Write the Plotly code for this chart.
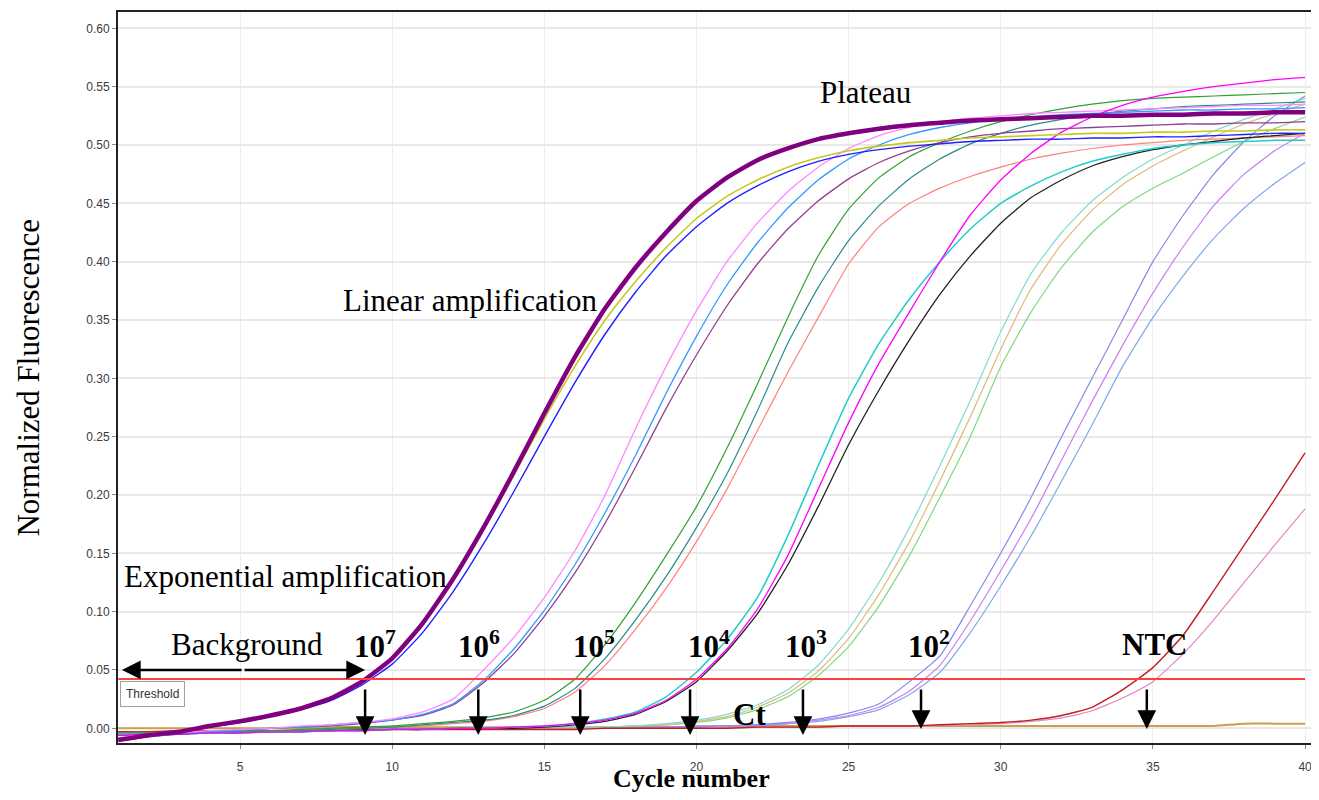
import plotly.graph_objects as go

cycles = list(range(1, 41))

s7_purple = [-0.010,-0.006,-0.003,0.002,0.006,0.011,0.017,0.026,0.040,0.060,0.090,0.128,0.172,0.220,0.270,0.318,0.360,0.395,0.425,0.452,0.472,0.487,0.497,0.505,0.510,0.514,0.517,0.519,0.521,0.522,0.523,0.524,0.525,0.525,0.526,0.526,0.527,0.527,0.528,0.528]
s7_yellow = [-0.010,-0.007,-0.003,0.002,0.006,0.011,0.017,0.026,0.040,0.060,0.089,0.127,0.170,0.217,0.265,0.310,0.350,0.383,0.412,0.437,0.456,0.470,0.481,0.489,0.495,0.499,0.502,0.504,0.506,0.507,0.508,0.509,0.510,0.510,0.511,0.511,0.512,0.512,0.513,0.513]
s7_blue = [-0.011,-0.007,-0.003,0.001,0.005,0.010,0.016,0.024,0.037,0.055,0.082,0.117,0.158,0.203,0.250,0.296,0.338,0.374,0.405,0.430,0.450,0.465,0.477,0.486,0.492,0.496,0.499,0.501,0.503,0.504,0.505,0.505,0.506,0.506,0.507,0.507,0.508,0.509,0.510,0.510]

s6_pink = [-0.008,-0.006,-0.004,-0.002,-0.001,0.000,0.002,0.003,0.005,0.008,0.014,0.025,0.050,0.078,0.112,0.152,0.200,0.257,0.310,0.358,0.400,0.433,0.460,0.481,0.497,0.508,0.515,0.520,0.523,0.525,0.527,0.528,0.529,0.530,0.531,0.532,0.533,0.534,0.534,0.535]
s6_dblue = [-0.009,-0.007,-0.005,-0.003,-0.002,0.000,0.001,0.003,0.005,0.007,0.012,0.021,0.041,0.068,0.101,0.140,0.185,0.234,0.287,0.336,0.380,0.416,0.446,0.470,0.488,0.500,0.509,0.515,0.519,0.522,0.524,0.526,0.527,0.528,0.529,0.530,0.530,0.531,0.531,0.532]
s6_purple = [-0.009,-0.007,-0.005,-0.003,-0.002,0.000,0.001,0.002,0.004,0.007,0.011,0.020,0.039,0.064,0.096,0.133,0.176,0.224,0.274,0.320,0.362,0.398,0.428,0.452,0.471,0.485,0.495,0.502,0.507,0.510,0.512,0.514,0.515,0.516,0.517,0.518,0.518,0.519,0.519,0.520]

s5_green = [-0.004,-0.004,-0.003,-0.003,-0.002,-0.002,-0.001,0.000,0.001,0.002,0.004,0.006,0.009,0.014,0.024,0.042,0.072,0.108,0.148,0.190,0.240,0.295,0.352,0.405,0.445,0.472,0.490,0.502,0.512,0.520,0.526,0.531,0.535,0.538,0.540,0.541,0.542,0.543,0.544,0.545]
s5_teal = [-0.005,-0.005,-0.004,-0.004,-0.003,-0.003,-0.002,-0.001,0.000,0.001,0.003,0.005,0.007,0.011,0.019,0.034,0.060,0.093,0.130,0.172,0.218,0.272,0.330,0.378,0.418,0.448,0.471,0.488,0.501,0.510,0.517,0.522,0.526,0.529,0.531,0.533,0.534,0.535,0.536,0.537]
s5_salmon = [-0.005,-0.005,-0.004,-0.004,-0.003,-0.003,-0.002,-0.001,0.000,0.001,0.002,0.004,0.006,0.010,0.017,0.031,0.054,0.085,0.120,0.160,0.205,0.255,0.305,0.352,0.398,0.430,0.450,0.463,0.473,0.481,0.488,0.493,0.497,0.500,0.502,0.504,0.505,0.506,0.507,0.508]

s4_cyan = [-0.005,-0.005,-0.004,-0.004,-0.004,-0.003,-0.003,-0.002,-0.002,-0.001,-0.001,0.000,0.000,0.001,0.002,0.004,0.008,0.014,0.027,0.048,0.076,0.112,0.165,0.225,0.283,0.330,0.368,0.400,0.428,0.450,0.465,0.477,0.486,0.492,0.497,0.500,0.502,0.503,0.504,0.504]
s4_magenta = [-0.006,-0.005,-0.005,-0.004,-0.004,-0.003,-0.003,-0.002,-0.002,-0.001,-0.001,0.000,0.000,0.001,0.002,0.004,0.007,0.013,0.024,0.042,0.068,0.102,0.148,0.205,0.262,0.313,0.357,0.400,0.440,0.470,0.493,0.511,0.524,0.534,0.541,0.546,0.550,0.553,0.556,0.558]
s4_black = [-0.006,-0.005,-0.005,-0.004,-0.004,-0.003,-0.003,-0.002,-0.002,-0.001,-0.001,0.000,0.000,0.000,0.001,0.003,0.006,0.012,0.023,0.040,0.066,0.098,0.140,0.190,0.243,0.290,0.333,0.372,0.405,0.433,0.455,0.470,0.482,0.490,0.496,0.500,0.503,0.506,0.508,0.510]

s3_aqua = [-0.004,-0.004,-0.003,-0.003,-0.003,-0.002,-0.002,-0.002,-0.001,-0.001,-0.001,0.000,0.000,0.000,0.000,0.001,0.001,0.002,0.004,0.007,0.012,0.020,0.033,0.054,0.085,0.125,0.172,0.225,0.281,0.340,0.390,0.425,0.452,0.472,0.488,0.500,0.512,0.522,0.531,0.540]
s3_tan = [-0.004,-0.004,-0.003,-0.003,-0.003,-0.002,-0.002,-0.002,-0.001,-0.001,-0.001,0.000,0.000,0.000,0.000,0.000,0.001,0.002,0.003,0.006,0.010,0.018,0.030,0.049,0.077,0.115,0.160,0.212,0.267,0.325,0.377,0.415,0.444,0.466,0.482,0.495,0.507,0.518,0.527,0.535]
s3_lgreen = [-0.004,-0.004,-0.003,-0.003,-0.003,-0.002,-0.002,-0.002,-0.001,-0.001,-0.001,0.000,0.000,0.000,0.000,0.000,0.001,0.002,0.003,0.005,0.009,0.016,0.027,0.045,0.070,0.105,0.148,0.198,0.250,0.310,0.357,0.395,0.425,0.447,0.463,0.476,0.490,0.503,0.514,0.524]

s2_mpurple = [-0.003,-0.003,-0.003,-0.002,-0.002,-0.002,-0.002,-0.001,-0.001,-0.001,-0.001,0.000,0.000,0.000,0.000,0.000,0.001,0.001,0.001,0.002,0.002,0.003,0.005,0.008,0.013,0.021,0.040,0.062,0.105,0.150,0.198,0.250,0.300,0.350,0.400,0.440,0.475,0.503,0.525,0.542]
s2_orchid = [-0.003,-0.003,-0.003,-0.002,-0.002,-0.002,-0.002,-0.001,-0.001,-0.001,-0.001,0.000,0.000,0.000,0.000,0.000,0.000,0.001,0.001,0.001,0.002,0.003,0.004,0.007,0.011,0.018,0.032,0.054,0.092,0.135,0.180,0.230,0.280,0.328,0.373,0.413,0.448,0.475,0.495,0.510]
s2_lsblue = [-0.003,-0.003,-0.003,-0.002,-0.002,-0.002,-0.002,-0.001,-0.001,-0.001,-0.001,0.000,0.000,0.000,0.000,0.000,0.000,0.000,0.001,0.001,0.002,0.002,0.004,0.006,0.010,0.016,0.029,0.048,0.082,0.122,0.165,0.212,0.260,0.310,0.352,0.388,0.420,0.446,0.467,0.485]

ntc_red = [-0.003,-0.003,-0.002,-0.002,-0.002,-0.002,-0.002,-0.002,-0.001,-0.001,-0.001,-0.001,-0.001,-0.001,-0.001,-0.001,0.000,0.000,0.000,0.000,0.000,0.001,0.001,0.001,0.002,0.002,0.002,0.003,0.004,0.005,0.007,0.011,0.018,0.033,0.052,0.080,0.118,0.157,0.196,0.236]
ntc_pink = [-0.004,-0.004,-0.003,-0.003,-0.003,-0.002,-0.002,-0.002,-0.002,-0.001,-0.001,-0.001,-0.001,-0.001,0.000,0.000,0.000,0.000,0.000,0.000,0.001,0.001,0.001,0.001,0.002,0.002,0.002,0.002,0.003,0.004,0.006,0.009,0.015,0.026,0.040,0.064,0.093,0.125,0.157,0.188]
flat_gold = [0.000,0.000,0.000,0.000,0.000,0.000,0.000,0.001,0.001,0.001,0.001,0.001,0.001,0.001,0.001,0.001,0.001,0.001,0.001,0.001,0.002,0.002,0.002,0.002,0.002,0.002,0.002,0.002,0.002,0.002,0.002,0.002,0.002,0.002,0.002,0.002,0.002,0.004,0.004,0.004]

threshold = 0.0423

# (values, colour, width) in drawing order
series = [
    (flat_gold, "#c8a050", 2.0),
    (s2_lsblue, "#80a8e8", 1.2), (s2_orchid, "#c880f0", 1.2), (s2_mpurple, "#8888e8", 1.2),
    (s3_lgreen, "#80d880", 1.2), (s3_tan, "#e0b878", 1.2), (s3_aqua, "#80dccc", 1.2),
    (ntc_pink, "#e088c0", 1.2), (ntc_red, "#c02020", 1.4),
    (s5_salmon, "#ff8080", 1.2), (s5_teal, "#2a8a8a", 1.2), (s5_green, "#33a033", 1.2),
    (s6_purple, "#904090", 1.3), (s6_dblue, "#3399ff", 1.3), (s6_pink, "#ff88ff", 1.3),
    (s4_black, "#222222", 1.3), (s4_cyan, "#22cccc", 1.5), (s4_magenta, "#ff00ff", 1.3),
    (s7_blue, "#2020ff", 1.4), (s7_yellow, "#c8c820", 1.6), (s7_purple, "#800080", 4.5),
]

fig = go.Figure()
for vals, col, w in series:
    fig.add_trace(go.Scatter(x=cycles, y=vals, mode="lines",
                             line=dict(color=col, width=w, shape="spline", smoothing=0.5),
                             hoverinfo="skip", showlegend=False))

fig.add_trace(go.Scatter(x=[cycles[0], cycles[-1]], y=[threshold, threshold], mode="lines",
                         line=dict(color="#ff4040", width=2), hoverinfo="skip", showlegend=False))

serif = "Liberation Serif, Times New Roman, serif"
ann = []

def text(x, y, s, size=31, bold=False):
    ann.append(dict(x=x, y=y, xref="x", yref="y", text=("<b>%s</b>" % s) if bold else s,
                    showarrow=False, font=dict(family=serif, size=size, color="black"),
                    xanchor="center", yanchor="middle"))

text(25.57, 0.545, "Plateau")
text(12.56, 0.367, "Linear amplification")
text(6.48, 0.130, "Exponential amplification")
text(5.23, 0.072, "Background")
labels = [(9.44, "10<sup>7</sup>"), (12.86, "10<sup>6</sup>"), (16.64, "10<sup>5</sup>"),
          (20.41, "10<sup>4</sup>"), (23.6, "10<sup>3</sup>"), (27.64, "10<sup>2</sup>"),
          (35.04, "NTC")]
for x, s in labels:
    text(x, 0.072, s, size=31, bold=True)
text(21.73, 0.012, "Ct", size=31, bold=True)

# Ct arrows
ct_arrows = [(9.11, -0.0057), (12.83, -0.0057), (16.18, -0.0057), (19.79, -0.0057),
             (23.50, -0.0057), (27.38, -0.0006), (34.80, -0.0006)]
for x, ytip in ct_arrows:
    ann.append(dict(x=x, y=ytip, ax=x, ay=0.0345, xref="x", yref="y", axref="x", ayref="y",
                    text="", showarrow=True, arrowhead=2, arrowsize=1.5, arrowwidth=2.5,
                    arrowcolor="black"))

# background double arrow
for xt in (1.12, 9.11):
    ann.append(dict(x=xt, y=0.050, ax=5.1, ay=0.050, xref="x", yref="y", axref="x", ayref="y",
                    text="", showarrow=True, arrowhead=2, arrowsize=1.5, arrowwidth=2.5,
                    arrowcolor="black"))

# threshold label box
ann.append(dict(x=1.04, y=threshold - 0.0015, xref="x", yref="y", text="Threshold",
                showarrow=False, xanchor="left", yanchor="top",
                font=dict(family="Liberation Sans Narrow, Arial Narrow, Liberation Sans", size=12, color="#333"),
                bgcolor="white", bordercolor="#a0a0a0", borderwidth=1, borderpad=5))

# axis titles
ann.append(dict(x=-0.0751, y=0.5, xref="paper", yref="paper", text="Normalized Fluorescence",
                textangle=-90, showarrow=False, xanchor="center", yanchor="middle",
                font=dict(family=serif, size=31, color="black")))
ann.append(dict(x=0.479, y=-0.049, xref="paper", yref="paper", text="<b>Cycle number</b>",
                showarrow=False, xanchor="center", yanchor="middle",
                font=dict(family=serif, size=26, color="black")))

tickfont = dict(family="Liberation Sans Narrow, Arial Narrow, Liberation Sans", size=12, color="#3a3a48")
fig.update_layout(
    width=1311, height=792,
    margin=dict(l=110, r=3, t=4, b=57, autoexpand=False),
    paper_bgcolor="white", plot_bgcolor="white",
    showlegend=False, annotations=ann,
    xaxis=dict(range=[0.99, 40.36], tickvals=[5, 10, 15, 20, 25, 30, 35, 40],
               showgrid=True, gridcolor="#eeeeee", gridwidth=1, automargin=False,
               showline=True, linecolor="#222", linewidth=2, mirror=True,
               ticks="outside", ticklen=4, tickcolor="#888", tickfont=tickfont,
               ticklabelstandoff=8, zeroline=False),
    yaxis=dict(range=[-0.0126, 0.614], tick0=0, dtick=0.05, tickformat=".2f",
               showgrid=True, gridcolor="#e8e8e8", gridwidth=1.5, automargin=False,
               showline=True, linecolor="#222", linewidth=2, mirror=True,
               ticks="outside", ticklen=4, tickcolor="#888", tickfont=tickfont,
               zeroline=False),
)

fig.write_html("out.html")
